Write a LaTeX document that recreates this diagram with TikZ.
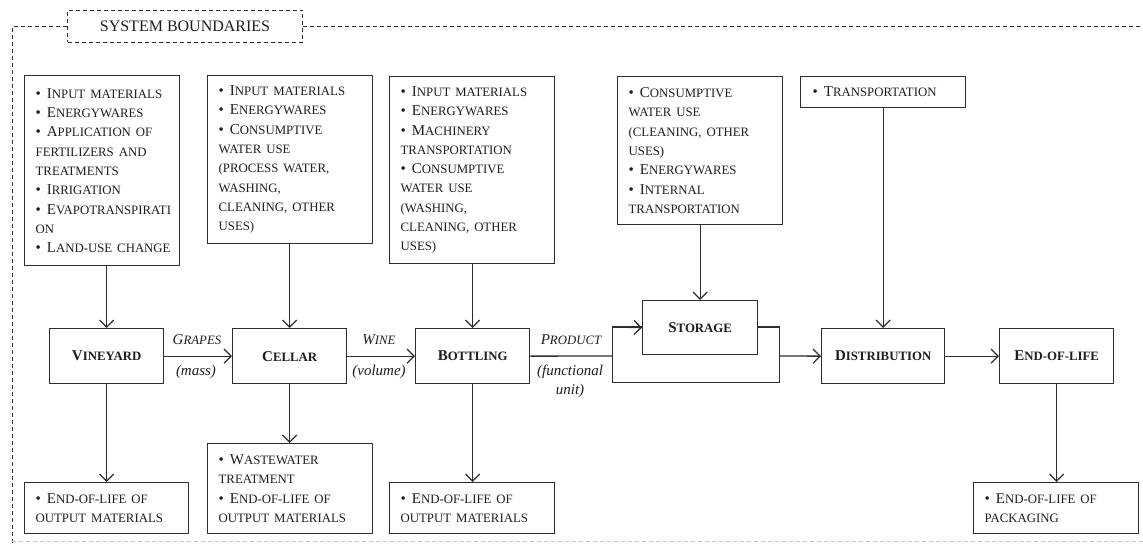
\documentclass[tikz,border=0pt]{standalone}
\usepackage{fontspec}
\setmainfont{Liberation Serif}
\usetikzlibrary{arrows.meta}
\definecolor{linec}{HTML}{2E2E2E}
\definecolor{textc}{HTML}{1E1E1E}
\newcommand\mainf{\fontsize{15}{19.3}\selectfont}
\newcommand\s[1]{{\fontsize{12.8}{12.8}\selectfont #1}}
\newcommand\bul{\textbullet\nobreak\hspace{6pt}}
\newcommand\ind{\hspace*{6pt}}
\begin{document}
\begin{tikzpicture}[x=1pt,y=-1pt,
  infobox/.style={draw=linec, line width=1.3pt, anchor=north west, align=left,
    inner xsep=11pt, inner ysep=0pt, font=\mainf, fill=white, text=textc},
  procbox/.style={draw=linec, line width=1.3pt, anchor=north west, align=center,
    inner sep=0pt, font=\mainf\bfseries, fill=white, text=textc},
  flow/.style={draw=linec, line width=1.3pt, -{Straight Barb[length=7pt,width=14pt]}},
  plain/.style={draw=linec, line width=1.3pt},
  lbl/.style={font=\mainf\itshape, inner sep=0pt, text=textc, align=center},
  bound/.style={draw=linec, line width=1pt, dash pattern=on 4pt off 3pt}
]
\useasboundingbox (0,0) rectangle (1143,545);

% system boundary
\node[bound, anchor=north west, minimum width=235pt, minimum height=32pt,
  inner sep=0pt, font=\fontsize{16}{16}\selectfont, text=textc] (sb) at (67,10) {SYSTEM BOUNDARIES};
\coordinate (bcorner) at (12,27);
\coordinate (bleftend) at (12,545);
\coordinate (brightend) at (1143,27);
\draw[bound] (sb.west |- bcorner) -- (bcorner) -- (bleftend);
\draw[bound] (sb.east |- bcorner) -- (brightend);
\coordinate (bbl) at (12,541);
\coordinate (bbr) at (1143,541);
\draw[bound, draw=black!22] (bbl) -- (bbr);

% bypass loop around storage
\coordinate (btl) at (612.5,327);
\coordinate (bbrc) at (779.5,382.5);
\coordinate (bin) at (612.5,356);
\coordinate (bout) at (779.5,356);
\draw[plain] (btl) rectangle (bbrc);

% input boxes
\node[infobox, text width=145pt, inner xsep=5pt, minimum height=190pt] (in1) at (24,75) {%
\ind\bul I\s{NPUT MATERIALS}\\
\ind\bul E\s{NERGYWARES}\\
\ind\bul A\s{PPLICATION OF}\\
\ind\s{FERTILIZERS AND}\\
\ind\s{TREATMENTS}\\
\ind\bul I\s{RRIGATION}\\
\ind\bul E\s{VAPOTRANSPIRATI}\\
\ind\s{ON}\\
\ind\bul L\s{AND-USE CHANGE}};

\node[infobox, text width=143pt, minimum height=168pt] (in2) at (207,75) {%
\bul I\s{NPUT MATERIALS}\\
\bul E\s{NERGYWARES}\\
\bul C\s{ONSUMPTIVE}\\
\s{WATER USE}\\
\s{(PROCESS WATER,}\\
\s{WASHING,}\\
\s{CLEANING, OTHER}\\
\s{USES)}};

\node[infobox, text width=143pt, minimum height=187pt] (in3) at (389,76) {%
\bul I\s{NPUT MATERIALS}\\
\bul E\s{NERGYWARES}\\
\bul M\s{ACHINERY}\\
\s{TRANSPORTATION}\\
\bul C\s{ONSUMPTIVE}\\
\s{WATER USE}\\
\s{(WASHING,}\\
\s{CLEANING, OTHER}\\
\s{USES)}};

\node[infobox, text width=143pt, minimum height=148pt] (in4) at (617,76) {%
\bul C\s{ONSUMPTIVE}\\
\s{WATER USE}\\
\s{(CLEANING, OTHER}\\
\s{USES)}\\
\bul E\s{NERGYWARES}\\
\bul I\s{NTERNAL}\\
\s{TRANSPORTATION}};

\node[infobox, text width=141pt, minimum height=31pt, inner xsep=12pt] (in5) at (800,76) {%
\bul T\s{RANSPORTATION}};

% process boxes
\node[procbox, minimum width=114pt, minimum height=55pt] (vin) at (49,328) {V\s{INEYARD}};
\node[procbox, minimum width=114pt, minimum height=55pt] (cel) at (232,328) {C\s{ELLAR}};
\node[procbox, minimum width=114pt, minimum height=55pt] (bot) at (415,328) {B\s{OTTLING}};
\node[procbox, minimum width=115pt, minimum height=54pt] (sto) at (642,300) {S\s{TORAGE}};
\node[procbox, minimum width=123pt, minimum height=55pt] (dis) at (821,328) {D\s{ISTRIBUTION}};
\node[procbox, minimum width=114pt, minimum height=55pt] (eol) at (999,328) {E\s{ND-OF-LIFE}};

% output boxes
\node[infobox, text width=142pt, minimum height=51pt] (out1) at (24,482) {%
\bul E\s{ND-OF-LIFE OF}\\
\s{OUTPUT MATERIALS}};
\node[infobox, text width=143pt, minimum height=90pt] (out2) at (207,443) {%
\bul W\s{ASTEWATER}\\
\s{TREATMENT}\\
\bul E\s{ND-OF-LIFE OF}\\
\s{OUTPUT MATERIALS}};
\node[infobox, text width=143pt, minimum height=51pt] (out3) at (389,482) {%
\bul E\s{ND-OF-LIFE OF}\\
\s{OUTPUT MATERIALS}};
\node[infobox, text width=143pt, minimum height=51pt] (out4) at (973,482) {%
\bul E\s{ND-OF-LIFE OF}\\
\s{PACKAGING}};

% flow labels
\node[lbl] (lgr) at (197,340) {G\s{RAPES}};
\node[lbl] (lma) at (196,372) {(mass)};
\node[lbl] (lwi) at (379,340) {W\s{INE}};
\node[lbl] (lvo) at (379,372) {(volume)};
\node[lbl] (lpr) at (571,340) {P\s{RODUCT}};
\node[lbl] (lfu) at (570,381.5) {(functional\\unit)};

% connectors
\draw[flow] (in1.south -| vin.north) -- (vin.north);
\draw[flow] (in2.south -| cel.north) -- (cel.north);
\draw[flow] (in3.south -| bot.north) -- (bot.north);
\draw[flow] (in4.south -| sto.north) -- (sto.north);
\draw[flow] (in5.south -| dis.north) -- (dis.north);

\draw[flow] (vin.east) -- (cel.west);
\draw[flow] (cel.east) -- (bot.west);
\draw[plain] (bot.east) -- (bin);
\draw[flow] (btl) -- (sto.west);
\draw[flow] (bout) -- (dis.west);
\draw[flow] (dis.east) -- (eol.west);

\draw[flow] (vin.south) -- (vin.south |- out1.north);
\draw[flow] (cel.south) -- (cel.south |- out2.north);
\draw[flow] (bot.south) -- (bot.south |- out3.north);
\draw[flow] (eol.south) -- (eol.south |- out4.north);
\end{tikzpicture}
\end{document}
